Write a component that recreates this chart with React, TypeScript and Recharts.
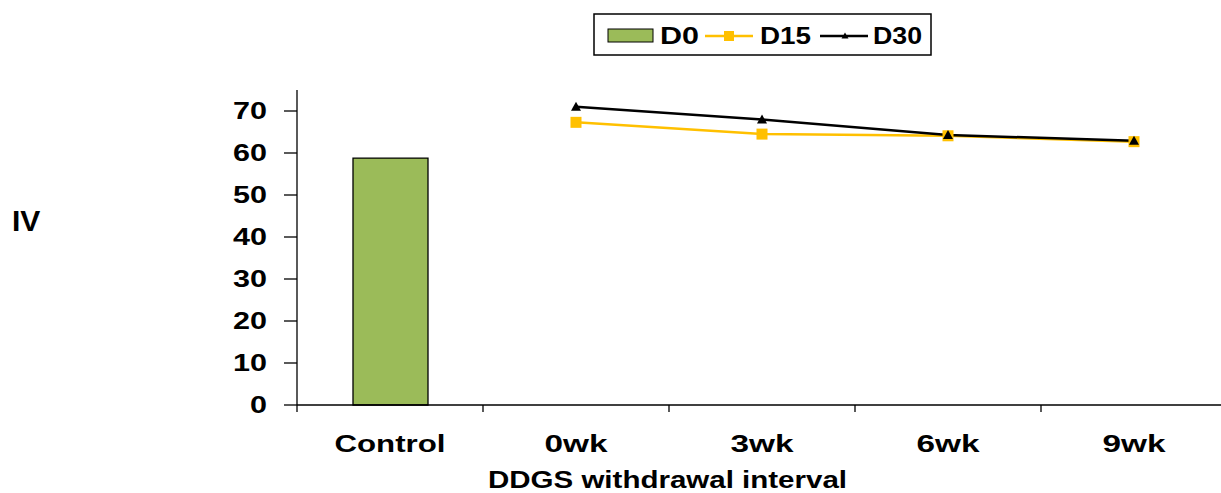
import React from 'react';
import { ComposedChart, Bar, Line, XAxis, YAxis } from 'recharts';

const categories = ['Control', '0wk', '3wk', '6wk', '9wk'];
const d0Values: (number | null)[] = [58.8, null, null, null, null];
const d15Values: (number | null)[] = [null, 67.3, 64.5, 64.1, 62.7];
const d30Values: (number | null)[] = [null, 71.0, 68.0, 64.3, 62.9];
const yTicks = [0, 10, 20, 30, 40, 50, 60, 70];
const xTitle = 'DDGS withdrawal interval';
const sideLabel = 'IV';

const data = categories.map((c, i) => ({
  name: c,
  D0: d0Values[i],
  D15: d15Values[i],
  D30: d30Values[i],
}));

const FONT = '"Liberation Sans", Arial, sans-serif';
const BAND = 186;

const XTick = (props: any) => {
  const { x, y, payload } = props;
  const v = String(payload.value);
  const len = v === 'Control' ? 111 : 63;
  return (
    <g>
      <line x1={x - BAND / 2} y1={y} x2={x - BAND / 2} y2={y + 7} stroke="#000" strokeWidth={1.3} />
      <text x={x} y={y + 47} textAnchor="middle" fontFamily={FONT} fontWeight="bold" fontSize={23}
        fill="#000" textLength={len} lengthAdjust="spacingAndGlyphs">
        {v}
      </text>
    </g>
  );
};

const YTick = (props: any) => {
  const { x, y, payload } = props;
  const v = String(payload.value);
  return (
    <text x={x} y={y + 8} textAnchor="end" fontFamily={FONT} fontWeight="bold" fontSize={23}
      fill="#000" textLength={v.length * 17} lengthAdjust="spacingAndGlyphs">
      {v}
    </text>
  );
};

const SquareDot = (props: any) => {
  const { cx, cy, index } = props;
  if (cx == null || cy == null || props.value == null) return <g key={`s${index}`} />;
  return <rect key={`s${index}`} x={cx - 5.5} y={cy - 5.5} width={11} height={11} fill="#FFC000" />;
};

const TriDot = (props: any) => {
  const { cx, cy, index } = props;
  if (cx == null || cy == null || props.value == null) return <g key={`t${index}`} />;
  return <path key={`t${index}`} d={`M${cx},${cy - 5} L${cx + 5},${cy + 4} L${cx - 5},${cy + 4} Z`} fill="#000" />;
};

const XTitle = (props: any) => {
  const vb = props.viewBox || { x: 297, y: 405 };
  return (
    <text x={vb.x + 191} y={vb.y + 83} fontFamily={FONT} fontWeight="bold" fontSize={24}
      fill="#000" textLength={359} lengthAdjust="spacingAndGlyphs">
      {xTitle}
    </text>
  );
};

const LegendBox = () => (
  <svg width={340} height={44} style={{ position: 'absolute', left: 593, top: 13 }}>
    <rect x={1} y={1} width={337} height={41} fill="#fff" stroke="#000" strokeWidth={1.5} />
    <rect x={15} y={16} width={45} height={13} fill="#9BBB59" stroke="#000" strokeWidth={1} />
    <text x={67} y={31} fontFamily={FONT} fontWeight="bold" fontSize={24} fill="#000" textLength={39} lengthAdjust="spacingAndGlyphs">D0</text>
    <line x1={112} y1={23} x2={160} y2={23} stroke="#FFC000" strokeWidth={2.5} />
    <rect x={131} y={18} width={10} height={10} fill="#FFC000" />
    <text x={167} y={31} fontFamily={FONT} fontWeight="bold" fontSize={24} fill="#000" textLength={51} lengthAdjust="spacingAndGlyphs">D15</text>
    <line x1={227} y1={23} x2={275} y2={23} stroke="#000" strokeWidth={2.5} />
    <path d="M252,19.5 L255.5,25.5 L248.5,25.5 Z" fill="#000" />
    <text x={280} y={31} fontFamily={FONT} fontWeight="bold" fontSize={24} fill="#000" textLength={49} lengthAdjust="spacingAndGlyphs">D30</text>
  </svg>
);

export default function App() {
  return (
    <div style={{ position: 'fixed', left: 0, top: 0, width: 1221, height: 493, overflow: 'hidden', background: '#fff' }}>
      <div style={{ position: 'absolute', left: 12, top: 204, fontFamily: FONT, fontWeight: 'bold', fontSize: 30, color: '#000', lineHeight: '34px' }}>{sideLabel}</div>
      <LegendBox />
      <div style={{ position: 'absolute', left: 0, top: 0 }}>
        <ComposedChart
          width={1230}
          height={493}
          data={data}
          margin={{ top: 90, right: 3, left: 237, bottom: 38 }}
        >
          <XAxis
            dataKey="name"
            tick={<XTick />}
            tickLine={false}
            tickSize={0}
            tickMargin={0}
            height={50}
            axisLine={{ stroke: '#000', strokeWidth: 1.3 }}
            interval={0}
            label={<XTitle />}
          />
          <YAxis
            width={60}
            domain={[0, 75]}
            ticks={yTicks}
            tickSize={13}
            tickMargin={17}
            axisLine={{ stroke: '#000', strokeWidth: 1.3 }}
            tickLine={{ stroke: '#000', strokeWidth: 1.3 }}
            tick={<YTick />}
          />
          <Bar dataKey="D0" fill="#9BBB59" stroke="#000" strokeWidth={1.3} barSize={75} isAnimationActive={false} />
          <Line dataKey="D15" stroke="#FFC000" strokeWidth={2.5} dot={<SquareDot />} activeDot={false} isAnimationActive={false} connectNulls={false} />
          <Line dataKey="D30" stroke="#000" strokeWidth={2.5} dot={<TriDot />} activeDot={false} isAnimationActive={false} connectNulls={false} />
        </ComposedChart>
      </div>
    </div>
  );
}
